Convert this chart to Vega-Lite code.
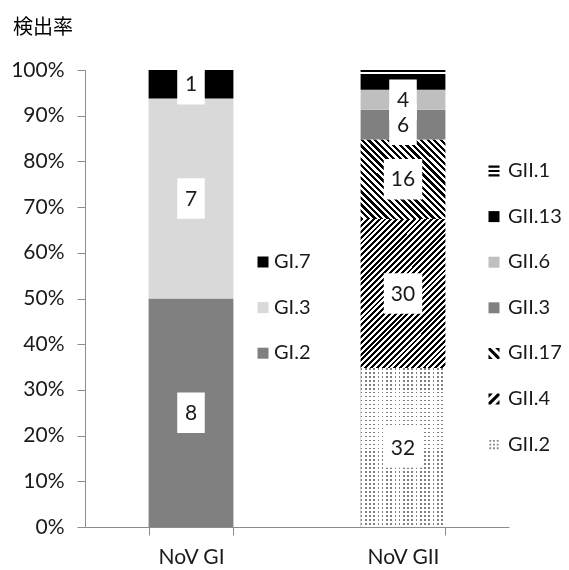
{
  "$schema": "https://vega.github.io/schema/vega-lite/v6.json",
  "width": 424,
  "height": 457,
  "autosize": {"type": "none"},
  "padding": {"left": 85, "top": 70, "right": 60, "bottom": 43},
  "title": {"text": "検出率", "anchor": "start", "frame": "group", "dx": -72, "offset": 21, "font": "Noto Sans CJK JP", "fontSize": 20, "fontWeight": "normal", "color": "#000000"},
  "config": {
    "view": {"stroke": null},
    "font": "Lato",
    "axis": {"labelFont": "Lato", "labelFontSize": 21, "labelColor": "#1a1a1a", "domainColor": "#8c8c8c", "tickColor": "#8c8c8c", "tickSize": 8, "grid": false, "title": null}
  },
  "data": {
    "values": [
      {"virus": "NoV GI", "genotype": "GI.2", "n": 8},
      {"virus": "NoV GI", "genotype": "GI.3", "n": 7},
      {"virus": "NoV GI", "genotype": "GI.7", "n": 1},
      {"virus": "NoV GII", "genotype": "GII.2", "n": 32},
      {"virus": "NoV GII", "genotype": "GII.4", "n": 30},
      {"virus": "NoV GII", "genotype": "GII.17", "n": 16},
      {"virus": "NoV GII", "genotype": "GII.3", "n": 6},
      {"virus": "NoV GII", "genotype": "GII.6", "n": 4},
      {"virus": "NoV GII", "genotype": "GII.13", "n": 3},
      {"virus": "NoV GII", "genotype": "GII.1", "n": 1}
    ]
  },
  "transform": [
    {"stack": "n", "groupby": ["virus"], "offset": "normalize", "as": ["y0", "y1"]},
    {"calculate": "(datum.y0 + datum.y1) / 2", "as": "ymid"}
  ],
  "encoding": {
    "x": {
      "field": "virus", "type": "nominal", "sort": ["NoV GI", "NoV GII"],
      "scale": {"paddingInner": 0.6, "paddingOuter": 0.3},
      "axis": {"labelAngle": 0, "labelPadding": 11, "tickBand": "extent"}
    }
  },
  "layer": [
    {
      "transform": [{"filter": "datum.virus === 'NoV GII'"}],
      "mark": {"type": "point", "filled": true, "opacity": 1, "strokeWidth": 0},
      "encoding": {
        "y": {"field": "ymid", "type": "quantitative", "stack": null},
        "size": {"value": 4},
        "fill": {
          "field": "genotype", "type": "nominal",
          "scale": {"domain": ["GII.1", "GII.13", "GII.6", "GII.3", "GII.17", "GII.4", "GII.2"],
            "range": ["#000000", "#000000", "#bfbfbf", "#808080", "#000000", "#000000", "#8a8a8a"]},
          "legend": {"orient": "none", "legendX": 399, "legendY": 91, "title": null, "padding": 0,
            "symbolSize": 121, "symbolStrokeWidth": 0,
            "labelFont": "Lato", "labelFontSize": 20, "labelColor": "#1a1a1a", "labelOffset": 4, "rowPadding": 25.6}
        },
        "shape": {
          "field": "genotype", "type": "nominal",
          "scale": {"domain": ["GII.1", "GII.13", "GII.6", "GII.3", "GII.17", "GII.4", "GII.2"],
            "range": [
              "M-1,-1H1V-0.6H-1Z M-1,-0.2H1V0.2H-1Z M-1,0.6H1V1H-1Z",
              "square",
              "square",
              "square",
              "M-1,-1L-0.6,-1L1,0.6L1,1L0.6,1L-1,-0.6Z M0.2,-1L1,-1L1,-0.2Z M-1,0.2L-1,1L-0.2,1Z",
              "M0.6,-1L1,-1L1,-0.6L-0.6,1L-1,1L-1,0.6Z M-1,-1L-0.2,-1L-1,-0.2Z M1,1L0.2,1L1,0.2Z",
              "M-0.84,-0.84h0.34v0.34h-0.34Z M-0.17,-0.84h0.34v0.34h-0.34Z M0.5,-0.84h0.34v0.34h-0.34Z M-0.84,-0.17h0.34v0.34h-0.34Z M-0.17,-0.17h0.34v0.34h-0.34Z M0.5,-0.17h0.34v0.34h-0.34Z M-0.84,0.5h0.34v0.34h-0.34Z M-0.17,0.5h0.34v0.34h-0.34Z M0.5,0.5h0.34v0.34h-0.34Z"
            ]},
          "legend": {"orient": "none", "legendX": 399, "legendY": 91, "title": null, "padding": 0,
            "symbolSize": 121, "symbolStrokeWidth": 0,
            "labelFont": "Lato", "labelFontSize": 20, "labelColor": "#1a1a1a", "labelOffset": 4, "rowPadding": 25.6}
        }
      }
    },
    {
      "transform": [{"filter": "datum.virus === 'NoV GI'"}],
      "mark": {"type": "bar"},
      "encoding": {
        "y": {"field": "y0", "type": "quantitative", "scale": {"domain": [0, 1]},
          "axis": {"values": [0, 0.1, 0.2, 0.3, 0.4, 0.5, 0.6, 0.7, 0.8, 0.9, 1], "format": ".0%", "labelPadding": 13}},
        "y2": {"field": "y1"},
        "color": {
          "field": "genotype", "type": "nominal",
          "scale": {"domain": ["GI.7", "GI.3", "GI.2"], "range": ["#000000", "#d9d9d9", "#808080"]},
          "legend": {"orient": "none", "legendX": 168, "legendY": 182, "title": null, "padding": 0,
            "symbolType": "square", "symbolSize": 121, "symbolStrokeWidth": 0,
            "labelFont": "Lato", "labelFontSize": 20, "labelColor": "#1a1a1a", "labelOffset": 1, "rowPadding": 25.6}
        }
      }
    },
    {
      "transform": [{"filter": "datum.virus === 'NoV GII'"}],
      "mark": {"type": "bar"},
      "encoding": {
        "y": {"field": "y0", "type": "quantitative"},
        "y2": {"field": "y1"},
        "fill": {
          "condition": [
            {"test": "datum.genotype === 'GII.13'", "value": "#000000"},
            {"test": "datum.genotype === 'GII.6'", "value": "#bfbfbf"},
            {"test": "datum.genotype === 'GII.3'", "value": "#808080"},
            {"test": "datum.genotype === 'GII.4'", "value": {"gradient": "linear", "x1": 0, "y1": 0, "x2": 0.6746, "y2": 1.1853, "stops": [
              {"offset": 0, "color": "#000"}, {"offset": 0.0125, "color": "#000"}, {"offset": 0.0125, "color": "#fff"}, {"offset": 0.025, "color": "#fff"},
              {"offset": 0.025, "color": "#000"}, {"offset": 0.0375, "color": "#000"}, {"offset": 0.0375, "color": "#fff"}, {"offset": 0.05, "color": "#fff"},
              {"offset": 0.05, "color": "#000"}, {"offset": 0.0625, "color": "#000"}, {"offset": 0.0625, "color": "#fff"}, {"offset": 0.075, "color": "#fff"},
              {"offset": 0.075, "color": "#000"}, {"offset": 0.0875, "color": "#000"}, {"offset": 0.0875, "color": "#fff"}, {"offset": 0.1, "color": "#fff"},
              {"offset": 0.1, "color": "#000"}, {"offset": 0.1125, "color": "#000"}, {"offset": 0.1125, "color": "#fff"}, {"offset": 0.125, "color": "#fff"},
              {"offset": 0.125, "color": "#000"}, {"offset": 0.1375, "color": "#000"}, {"offset": 0.1375, "color": "#fff"}, {"offset": 0.15, "color": "#fff"},
              {"offset": 0.15, "color": "#000"}, {"offset": 0.1625, "color": "#000"}, {"offset": 0.1625, "color": "#fff"}, {"offset": 0.175, "color": "#fff"},
              {"offset": 0.175, "color": "#000"}, {"offset": 0.1875, "color": "#000"}, {"offset": 0.1875, "color": "#fff"}, {"offset": 0.2, "color": "#fff"},
              {"offset": 0.2, "color": "#000"}, {"offset": 0.2125, "color": "#000"}, {"offset": 0.2125, "color": "#fff"}, {"offset": 0.225, "color": "#fff"},
              {"offset": 0.225, "color": "#000"}, {"offset": 0.2375, "color": "#000"}, {"offset": 0.2375, "color": "#fff"}, {"offset": 0.25, "color": "#fff"},
              {"offset": 0.25, "color": "#000"}, {"offset": 0.2625, "color": "#000"}, {"offset": 0.2625, "color": "#fff"}, {"offset": 0.275, "color": "#fff"},
              {"offset": 0.275, "color": "#000"}, {"offset": 0.2875, "color": "#000"}, {"offset": 0.2875, "color": "#fff"}, {"offset": 0.3, "color": "#fff"},
              {"offset": 0.3, "color": "#000"}, {"offset": 0.3125, "color": "#000"}, {"offset": 0.3125, "color": "#fff"}, {"offset": 0.325, "color": "#fff"},
              {"offset": 0.325, "color": "#000"}, {"offset": 0.3375, "color": "#000"}, {"offset": 0.3375, "color": "#fff"}, {"offset": 0.35, "color": "#fff"},
              {"offset": 0.35, "color": "#000"}, {"offset": 0.3625, "color": "#000"}, {"offset": 0.3625, "color": "#fff"}, {"offset": 0.375, "color": "#fff"},
              {"offset": 0.375, "color": "#000"}, {"offset": 0.3875, "color": "#000"}, {"offset": 0.3875, "color": "#fff"}, {"offset": 0.4, "color": "#fff"},
              {"offset": 0.4, "color": "#000"}, {"offset": 0.4125, "color": "#000"}, {"offset": 0.4125, "color": "#fff"}, {"offset": 0.425, "color": "#fff"},
              {"offset": 0.425, "color": "#000"}, {"offset": 0.4375, "color": "#000"}, {"offset": 0.4375, "color": "#fff"}, {"offset": 0.45, "color": "#fff"},
              {"offset": 0.45, "color": "#000"}, {"offset": 0.4625, "color": "#000"}, {"offset": 0.4625, "color": "#fff"}, {"offset": 0.475, "color": "#fff"},
              {"offset": 0.475, "color": "#000"}, {"offset": 0.4875, "color": "#000"}, {"offset": 0.4875, "color": "#fff"}, {"offset": 0.5, "color": "#fff"},
              {"offset": 0.5, "color": "#000"}, {"offset": 0.5125, "color": "#000"}, {"offset": 0.5125, "color": "#fff"}, {"offset": 0.525, "color": "#fff"},
              {"offset": 0.525, "color": "#000"}, {"offset": 0.5375, "color": "#000"}, {"offset": 0.5375, "color": "#fff"}, {"offset": 0.55, "color": "#fff"},
              {"offset": 0.55, "color": "#000"}, {"offset": 0.5625, "color": "#000"}, {"offset": 0.5625, "color": "#fff"}, {"offset": 0.575, "color": "#fff"},
              {"offset": 0.575, "color": "#000"}, {"offset": 0.5875, "color": "#000"}, {"offset": 0.5875, "color": "#fff"}, {"offset": 0.6, "color": "#fff"},
              {"offset": 0.6, "color": "#000"}, {"offset": 0.6125, "color": "#000"}, {"offset": 0.6125, "color": "#fff"}, {"offset": 0.625, "color": "#fff"},
              {"offset": 0.625, "color": "#000"}, {"offset": 0.6375, "color": "#000"}, {"offset": 0.6375, "color": "#fff"}, {"offset": 0.65, "color": "#fff"},
              {"offset": 0.65, "color": "#000"}, {"offset": 0.6625, "color": "#000"}, {"offset": 0.6625, "color": "#fff"}, {"offset": 0.675, "color": "#fff"},
              {"offset": 0.675, "color": "#000"}, {"offset": 0.6875, "color": "#000"}, {"offset": 0.6875, "color": "#fff"}, {"offset": 0.7, "color": "#fff"},
              {"offset": 0.7, "color": "#000"}, {"offset": 0.7125, "color": "#000"}, {"offset": 0.7125, "color": "#fff"}, {"offset": 0.725, "color": "#fff"},
              {"offset": 0.725, "color": "#000"}, {"offset": 0.7375, "color": "#000"}, {"offset": 0.7375, "color": "#fff"}, {"offset": 0.75, "color": "#fff"},
              {"offset": 0.75, "color": "#000"}, {"offset": 0.7625, "color": "#000"}, {"offset": 0.7625, "color": "#fff"}, {"offset": 0.775, "color": "#fff"},
              {"offset": 0.775, "color": "#000"}, {"offset": 0.7875, "color": "#000"}, {"offset": 0.7875, "color": "#fff"}, {"offset": 0.8, "color": "#fff"},
              {"offset": 0.8, "color": "#000"}, {"offset": 0.8125, "color": "#000"}, {"offset": 0.8125, "color": "#fff"}, {"offset": 0.825, "color": "#fff"},
              {"offset": 0.825, "color": "#000"}, {"offset": 0.8375, "color": "#000"}, {"offset": 0.8375, "color": "#fff"}, {"offset": 0.85, "color": "#fff"},
              {"offset": 0.85, "color": "#000"}, {"offset": 0.8625, "color": "#000"}, {"offset": 0.8625, "color": "#fff"}, {"offset": 0.875, "color": "#fff"},
              {"offset": 0.875, "color": "#000"}, {"offset": 0.8875, "color": "#000"}, {"offset": 0.8875, "color": "#fff"}, {"offset": 0.9, "color": "#fff"},
              {"offset": 0.9, "color": "#000"}, {"offset": 0.9125, "color": "#000"}, {"offset": 0.9125, "color": "#fff"}, {"offset": 0.925, "color": "#fff"},
              {"offset": 0.925, "color": "#000"}, {"offset": 0.9375, "color": "#000"}, {"offset": 0.9375, "color": "#fff"}, {"offset": 0.95, "color": "#fff"},
              {"offset": 0.95, "color": "#000"}, {"offset": 0.9625, "color": "#000"}, {"offset": 0.9625, "color": "#fff"}, {"offset": 0.975, "color": "#fff"},
              {"offset": 0.975, "color": "#000"}, {"offset": 0.9875, "color": "#000"}, {"offset": 0.9875, "color": "#fff"}, {"offset": 1, "color": "#fff"}]}},
            {"test": "datum.genotype === 'GII.17'", "value": {"gradient": "linear", "x1": 0, "y1": 1, "x2": 1.0312, "y2": 0.0333, "stops": [
              {"offset": 0, "color": "#000"}, {"offset": 0.02, "color": "#000"}, {"offset": 0.02, "color": "#fff"}, {"offset": 0.04, "color": "#fff"},
              {"offset": 0.04, "color": "#000"}, {"offset": 0.06, "color": "#000"}, {"offset": 0.06, "color": "#fff"}, {"offset": 0.08, "color": "#fff"},
              {"offset": 0.08, "color": "#000"}, {"offset": 0.1, "color": "#000"}, {"offset": 0.1, "color": "#fff"}, {"offset": 0.12, "color": "#fff"},
              {"offset": 0.12, "color": "#000"}, {"offset": 0.14, "color": "#000"}, {"offset": 0.14, "color": "#fff"}, {"offset": 0.16, "color": "#fff"},
              {"offset": 0.16, "color": "#000"}, {"offset": 0.18, "color": "#000"}, {"offset": 0.18, "color": "#fff"}, {"offset": 0.2, "color": "#fff"},
              {"offset": 0.2, "color": "#000"}, {"offset": 0.22, "color": "#000"}, {"offset": 0.22, "color": "#fff"}, {"offset": 0.24, "color": "#fff"},
              {"offset": 0.24, "color": "#000"}, {"offset": 0.26, "color": "#000"}, {"offset": 0.26, "color": "#fff"}, {"offset": 0.28, "color": "#fff"},
              {"offset": 0.28, "color": "#000"}, {"offset": 0.3, "color": "#000"}, {"offset": 0.3, "color": "#fff"}, {"offset": 0.32, "color": "#fff"},
              {"offset": 0.32, "color": "#000"}, {"offset": 0.34, "color": "#000"}, {"offset": 0.34, "color": "#fff"}, {"offset": 0.36, "color": "#fff"},
              {"offset": 0.36, "color": "#000"}, {"offset": 0.38, "color": "#000"}, {"offset": 0.38, "color": "#fff"}, {"offset": 0.4, "color": "#fff"},
              {"offset": 0.4, "color": "#000"}, {"offset": 0.42, "color": "#000"}, {"offset": 0.42, "color": "#fff"}, {"offset": 0.44, "color": "#fff"},
              {"offset": 0.44, "color": "#000"}, {"offset": 0.46, "color": "#000"}, {"offset": 0.46, "color": "#fff"}, {"offset": 0.48, "color": "#fff"},
              {"offset": 0.48, "color": "#000"}, {"offset": 0.5, "color": "#000"}, {"offset": 0.5, "color": "#fff"}, {"offset": 0.52, "color": "#fff"},
              {"offset": 0.52, "color": "#000"}, {"offset": 0.54, "color": "#000"}, {"offset": 0.54, "color": "#fff"}, {"offset": 0.56, "color": "#fff"},
              {"offset": 0.56, "color": "#000"}, {"offset": 0.58, "color": "#000"}, {"offset": 0.58, "color": "#fff"}, {"offset": 0.6, "color": "#fff"},
              {"offset": 0.6, "color": "#000"}, {"offset": 0.62, "color": "#000"}, {"offset": 0.62, "color": "#fff"}, {"offset": 0.64, "color": "#fff"},
              {"offset": 0.64, "color": "#000"}, {"offset": 0.66, "color": "#000"}, {"offset": 0.66, "color": "#fff"}, {"offset": 0.68, "color": "#fff"},
              {"offset": 0.68, "color": "#000"}, {"offset": 0.7, "color": "#000"}, {"offset": 0.7, "color": "#fff"}, {"offset": 0.72, "color": "#fff"},
              {"offset": 0.72, "color": "#000"}, {"offset": 0.74, "color": "#000"}, {"offset": 0.74, "color": "#fff"}, {"offset": 0.76, "color": "#fff"},
              {"offset": 0.76, "color": "#000"}, {"offset": 0.78, "color": "#000"}, {"offset": 0.78, "color": "#fff"}, {"offset": 0.8, "color": "#fff"},
              {"offset": 0.8, "color": "#000"}, {"offset": 0.82, "color": "#000"}, {"offset": 0.82, "color": "#fff"}, {"offset": 0.84, "color": "#fff"},
              {"offset": 0.84, "color": "#000"}, {"offset": 0.86, "color": "#000"}, {"offset": 0.86, "color": "#fff"}, {"offset": 0.88, "color": "#fff"},
              {"offset": 0.88, "color": "#000"}, {"offset": 0.9, "color": "#000"}, {"offset": 0.9, "color": "#fff"}, {"offset": 0.92, "color": "#fff"},
              {"offset": 0.92, "color": "#000"}, {"offset": 0.94, "color": "#000"}, {"offset": 0.94, "color": "#fff"}, {"offset": 0.96, "color": "#fff"},
              {"offset": 0.96, "color": "#000"}, {"offset": 0.98, "color": "#000"}, {"offset": 0.98, "color": "#fff"}, {"offset": 1, "color": "#fff"}]}},
            {"test": "datum.genotype === 'GII.1'", "value": {"gradient": "linear", "x1": 0, "y1": 0, "x2": 0, "y2": 1, "stops": [
              {"offset": 0, "color": "#000"}, {"offset": 0.35, "color": "#000"}, {"offset": 0.35, "color": "#fff"}, {"offset": 0.75, "color": "#fff"},
              {"offset": 0.75, "color": "#000"}, {"offset": 1, "color": "#000"}]}}
          ],
          "value": {"gradient": "linear", "x1": 0, "y1": 0, "x2": 1, "y2": 0, "stops": [
            {"offset": 0, "color": "#808080"}, {"offset": 0.02, "color": "#808080"}, {"offset": 0.02, "color": "#fff"}, {"offset": 0.05, "color": "#fff"},
            {"offset": 0.05, "color": "#808080"}, {"offset": 0.07, "color": "#808080"}, {"offset": 0.07, "color": "#fff"}, {"offset": 0.1, "color": "#fff"},
            {"offset": 0.1, "color": "#808080"}, {"offset": 0.12, "color": "#808080"}, {"offset": 0.12, "color": "#fff"}, {"offset": 0.15, "color": "#fff"},
            {"offset": 0.15, "color": "#808080"}, {"offset": 0.17, "color": "#808080"}, {"offset": 0.17, "color": "#fff"}, {"offset": 0.2, "color": "#fff"},
            {"offset": 0.2, "color": "#808080"}, {"offset": 0.22, "color": "#808080"}, {"offset": 0.22, "color": "#fff"}, {"offset": 0.25, "color": "#fff"},
            {"offset": 0.25, "color": "#808080"}, {"offset": 0.27, "color": "#808080"}, {"offset": 0.27, "color": "#fff"}, {"offset": 0.3, "color": "#fff"},
            {"offset": 0.3, "color": "#808080"}, {"offset": 0.32, "color": "#808080"}, {"offset": 0.32, "color": "#fff"}, {"offset": 0.35, "color": "#fff"},
            {"offset": 0.35, "color": "#808080"}, {"offset": 0.37, "color": "#808080"}, {"offset": 0.37, "color": "#fff"}, {"offset": 0.4, "color": "#fff"},
            {"offset": 0.4, "color": "#808080"}, {"offset": 0.42, "color": "#808080"}, {"offset": 0.42, "color": "#fff"}, {"offset": 0.45, "color": "#fff"},
            {"offset": 0.45, "color": "#808080"}, {"offset": 0.47, "color": "#808080"}, {"offset": 0.47, "color": "#fff"}, {"offset": 0.5, "color": "#fff"},
            {"offset": 0.5, "color": "#808080"}, {"offset": 0.52, "color": "#808080"}, {"offset": 0.52, "color": "#fff"}, {"offset": 0.55, "color": "#fff"},
            {"offset": 0.55, "color": "#808080"}, {"offset": 0.57, "color": "#808080"}, {"offset": 0.57, "color": "#fff"}, {"offset": 0.6, "color": "#fff"},
            {"offset": 0.6, "color": "#808080"}, {"offset": 0.62, "color": "#808080"}, {"offset": 0.62, "color": "#fff"}, {"offset": 0.65, "color": "#fff"},
            {"offset": 0.65, "color": "#808080"}, {"offset": 0.67, "color": "#808080"}, {"offset": 0.67, "color": "#fff"}, {"offset": 0.7, "color": "#fff"},
            {"offset": 0.7, "color": "#808080"}, {"offset": 0.72, "color": "#808080"}, {"offset": 0.72, "color": "#fff"}, {"offset": 0.75, "color": "#fff"},
            {"offset": 0.75, "color": "#808080"}, {"offset": 0.77, "color": "#808080"}, {"offset": 0.77, "color": "#fff"}, {"offset": 0.8, "color": "#fff"},
            {"offset": 0.8, "color": "#808080"}, {"offset": 0.82, "color": "#808080"}, {"offset": 0.82, "color": "#fff"}, {"offset": 0.85, "color": "#fff"},
            {"offset": 0.85, "color": "#808080"}, {"offset": 0.87, "color": "#808080"}, {"offset": 0.87, "color": "#fff"}, {"offset": 0.9, "color": "#fff"},
            {"offset": 0.9, "color": "#808080"}, {"offset": 0.92, "color": "#808080"}, {"offset": 0.92, "color": "#fff"}, {"offset": 0.95, "color": "#fff"},
            {"offset": 0.95, "color": "#808080"}, {"offset": 0.97, "color": "#808080"}, {"offset": 0.97, "color": "#fff"}, {"offset": 1, "color": "#fff"}]}
        }
      }
    },
    {
      "transform": [{"filter": "datum.genotype === 'GII.2'"}],
      "mark": {"type": "bar", "blend": "lighten", "fill": {"gradient": "linear", "x1": 0, "y1": 0, "x2": 0, "y2": 1, "stops": [
        {"offset": 0, "color": "#808080"}, {"offset": 0.01, "color": "#808080"}, {"offset": 0.01, "color": "#fff"}, {"offset": 0.025, "color": "#fff"},
        {"offset": 0.025, "color": "#808080"}, {"offset": 0.035, "color": "#808080"}, {"offset": 0.035, "color": "#fff"}, {"offset": 0.05, "color": "#fff"},
        {"offset": 0.05, "color": "#808080"}, {"offset": 0.06, "color": "#808080"}, {"offset": 0.06, "color": "#fff"}, {"offset": 0.075, "color": "#fff"},
        {"offset": 0.075, "color": "#808080"}, {"offset": 0.085, "color": "#808080"}, {"offset": 0.085, "color": "#fff"}, {"offset": 0.1, "color": "#fff"},
        {"offset": 0.1, "color": "#808080"}, {"offset": 0.11, "color": "#808080"}, {"offset": 0.11, "color": "#fff"}, {"offset": 0.125, "color": "#fff"},
        {"offset": 0.125, "color": "#808080"}, {"offset": 0.135, "color": "#808080"}, {"offset": 0.135, "color": "#fff"}, {"offset": 0.15, "color": "#fff"},
        {"offset": 0.15, "color": "#808080"}, {"offset": 0.16, "color": "#808080"}, {"offset": 0.16, "color": "#fff"}, {"offset": 0.175, "color": "#fff"},
        {"offset": 0.175, "color": "#808080"}, {"offset": 0.185, "color": "#808080"}, {"offset": 0.185, "color": "#fff"}, {"offset": 0.2, "color": "#fff"},
        {"offset": 0.2, "color": "#808080"}, {"offset": 0.21, "color": "#808080"}, {"offset": 0.21, "color": "#fff"}, {"offset": 0.225, "color": "#fff"},
        {"offset": 0.225, "color": "#808080"}, {"offset": 0.235, "color": "#808080"}, {"offset": 0.235, "color": "#fff"}, {"offset": 0.25, "color": "#fff"},
        {"offset": 0.25, "color": "#808080"}, {"offset": 0.26, "color": "#808080"}, {"offset": 0.26, "color": "#fff"}, {"offset": 0.275, "color": "#fff"},
        {"offset": 0.275, "color": "#808080"}, {"offset": 0.285, "color": "#808080"}, {"offset": 0.285, "color": "#fff"}, {"offset": 0.3, "color": "#fff"},
        {"offset": 0.3, "color": "#808080"}, {"offset": 0.31, "color": "#808080"}, {"offset": 0.31, "color": "#fff"}, {"offset": 0.325, "color": "#fff"},
        {"offset": 0.325, "color": "#808080"}, {"offset": 0.335, "color": "#808080"}, {"offset": 0.335, "color": "#fff"}, {"offset": 0.35, "color": "#fff"},
        {"offset": 0.35, "color": "#808080"}, {"offset": 0.36, "color": "#808080"}, {"offset": 0.36, "color": "#fff"}, {"offset": 0.375, "color": "#fff"},
        {"offset": 0.375, "color": "#808080"}, {"offset": 0.385, "color": "#808080"}, {"offset": 0.385, "color": "#fff"}, {"offset": 0.4, "color": "#fff"},
        {"offset": 0.4, "color": "#808080"}, {"offset": 0.41, "color": "#808080"}, {"offset": 0.41, "color": "#fff"}, {"offset": 0.425, "color": "#fff"},
        {"offset": 0.425, "color": "#808080"}, {"offset": 0.435, "color": "#808080"}, {"offset": 0.435, "color": "#fff"}, {"offset": 0.45, "color": "#fff"},
        {"offset": 0.45, "color": "#808080"}, {"offset": 0.46, "color": "#808080"}, {"offset": 0.46, "color": "#fff"}, {"offset": 0.475, "color": "#fff"},
        {"offset": 0.475, "color": "#808080"}, {"offset": 0.485, "color": "#808080"}, {"offset": 0.485, "color": "#fff"}, {"offset": 0.5, "color": "#fff"},
        {"offset": 0.5, "color": "#808080"}, {"offset": 0.51, "color": "#808080"}, {"offset": 0.51, "color": "#fff"}, {"offset": 0.525, "color": "#fff"},
        {"offset": 0.525, "color": "#808080"}, {"offset": 0.535, "color": "#808080"}, {"offset": 0.535, "color": "#fff"}, {"offset": 0.55, "color": "#fff"},
        {"offset": 0.55, "color": "#808080"}, {"offset": 0.56, "color": "#808080"}, {"offset": 0.56, "color": "#fff"}, {"offset": 0.575, "color": "#fff"},
        {"offset": 0.575, "color": "#808080"}, {"offset": 0.585, "color": "#808080"}, {"offset": 0.585, "color": "#fff"}, {"offset": 0.6, "color": "#fff"},
        {"offset": 0.6, "color": "#808080"}, {"offset": 0.61, "color": "#808080"}, {"offset": 0.61, "color": "#fff"}, {"offset": 0.625, "color": "#fff"},
        {"offset": 0.625, "color": "#808080"}, {"offset": 0.635, "color": "#808080"}, {"offset": 0.635, "color": "#fff"}, {"offset": 0.65, "color": "#fff"},
        {"offset": 0.65, "color": "#808080"}, {"offset": 0.66, "color": "#808080"}, {"offset": 0.66, "color": "#fff"}, {"offset": 0.675, "color": "#fff"},
        {"offset": 0.675, "color": "#808080"}, {"offset": 0.685, "color": "#808080"}, {"offset": 0.685, "color": "#fff"}, {"offset": 0.7, "color": "#fff"},
        {"offset": 0.7, "color": "#808080"}, {"offset": 0.71, "color": "#808080"}, {"offset": 0.71, "color": "#fff"}, {"offset": 0.725, "color": "#fff"},
        {"offset": 0.725, "color": "#808080"}, {"offset": 0.735, "color": "#808080"}, {"offset": 0.735, "color": "#fff"}, {"offset": 0.75, "color": "#fff"},
        {"offset": 0.75, "color": "#808080"}, {"offset": 0.76, "color": "#808080"}, {"offset": 0.76, "color": "#fff"}, {"offset": 0.775, "color": "#fff"},
        {"offset": 0.775, "color": "#808080"}, {"offset": 0.785, "color": "#808080"}, {"offset": 0.785, "color": "#fff"}, {"offset": 0.8, "color": "#fff"},
        {"offset": 0.8, "color": "#808080"}, {"offset": 0.81, "color": "#808080"}, {"offset": 0.81, "color": "#fff"}, {"offset": 0.825, "color": "#fff"},
        {"offset": 0.825, "color": "#808080"}, {"offset": 0.835, "color": "#808080"}, {"offset": 0.835, "color": "#fff"}, {"offset": 0.85, "color": "#fff"},
        {"offset": 0.85, "color": "#808080"}, {"offset": 0.86, "color": "#808080"}, {"offset": 0.86, "color": "#fff"}, {"offset": 0.875, "color": "#fff"},
        {"offset": 0.875, "color": "#808080"}, {"offset": 0.885, "color": "#808080"}, {"offset": 0.885, "color": "#fff"}, {"offset": 0.9, "color": "#fff"},
        {"offset": 0.9, "color": "#808080"}, {"offset": 0.91, "color": "#808080"}, {"offset": 0.91, "color": "#fff"}, {"offset": 0.925, "color": "#fff"},
        {"offset": 0.925, "color": "#808080"}, {"offset": 0.935, "color": "#808080"}, {"offset": 0.935, "color": "#fff"}, {"offset": 0.95, "color": "#fff"},
        {"offset": 0.95, "color": "#808080"}, {"offset": 0.96, "color": "#808080"}, {"offset": 0.96, "color": "#fff"}, {"offset": 0.975, "color": "#fff"},
        {"offset": 0.975, "color": "#808080"}, {"offset": 0.985, "color": "#808080"}, {"offset": 0.985, "color": "#fff"}, {"offset": 1, "color": "#fff"}]}},
      "encoding": {
        "y": {"field": "y0", "type": "quantitative"},
        "y2": {"field": "y1"}
      }
    },
    {
      "transform": [{"filter": "datum.genotype !== 'GII.13' && datum.genotype !== 'GII.1'"}],
      "mark": {"type": "point", "filled": true, "fill": "#ffffff", "opacity": 1, "strokeWidth": 0},
      "encoding": {
        "y": {"field": "ymid", "type": "quantitative", "stack": null},
        "shape": {"condition": {"test": "datum.n >= 10", "value": "M-0.95,-1H0.95V1H-0.95Z"}, "value": "M-0.68,-1H0.68V1H-0.68Z"},
        "size": {"value": 1640}
      }
    },
    {
      "transform": [{"filter": "datum.genotype !== 'GII.13' && datum.genotype !== 'GII.1'"}],
      "mark": {"type": "text", "font": "Lato", "fontSize": 21, "color": "#1a1a1a", "align": "center", "baseline": "middle", "dy": 1},
      "encoding": {
        "y": {"field": "ymid", "type": "quantitative", "stack": null},
        "text": {"field": "n", "type": "quantitative"}
      }
    }
  ]
}
